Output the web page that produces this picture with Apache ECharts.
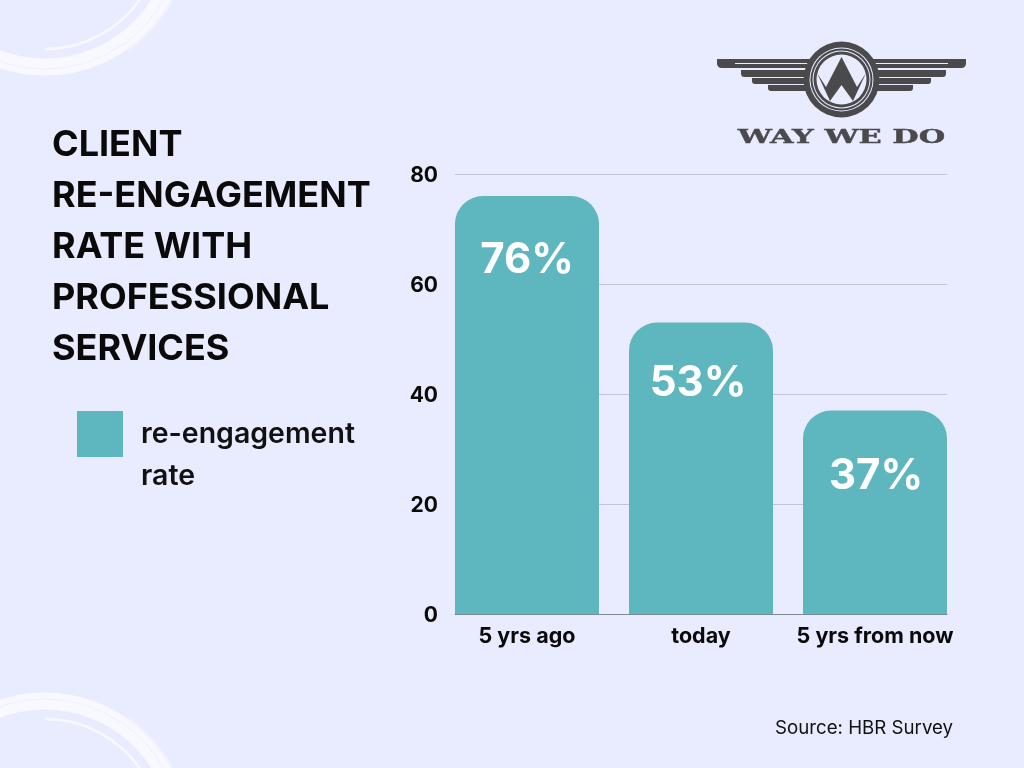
<!DOCTYPE html>
<html>
<head>
<meta charset="utf-8">
<style>
  html, body { margin: 0; padding: 0; background: #e9ecff; }
  #chart { width: 1024px; height: 768px; }
</style>
<script src="https://cdn.jsdelivr.net/npm/echarts@6/dist/echarts.min.js"></script>
</head>
<body>
<div id="chart"></div>
<script>
const categories = ['5 yrs ago', 'today', '5 yrs from now']
const rateValues = [76, 53, 37]
const yTicks = [0, 20, 40, 60, 80]
const seriesName = 're-engagement\nrate'
const titleText = 'CLIENT\nRE-ENGAGEMENT\nRATE WITH\nPROFESSIONAL\nSERVICES'
const sourceText = 'Source: HBR Survey'

const FONT = 'Inter, Roboto, sans-serif'
const BAR = '#5eb6bf'
const BG = '#e9ecff'
const DARK = '#4a4a4d'
const SWOOSH = '#f8f9ff'
// 每个柱子标签的微调
const labelOffsets = [[0, 7], [-3, 4], [1, 9]]

// 左侧装饰弧线，flip为true时是底部那个
function swoosh(flip) {
  const cy = flip ? 835 : -67
  const a = (deg) => deg * Math.PI / 180
  const arcs = [
    { r: 134, w: 17, s: 22, e: 115, c: SWOOSH },
    { r: 136, w: 1, s: 30, e: 110, c: '#eef0ff' },
    { r: 116, w: 2.5, s: 33, e: 90, c: SWOOSH },
    { r: 144, w: 1, s: 27, e: 55, c: SWOOSH }
  ]
  return arcs.map(item => ({
    type: 'arc',
    silent: true,
    shape: flip
      ? { cx: 45, cy: cy, r: item.r, startAngle: a(-item.e), endAngle: a(-item.s) }
      : { cx: 45, cy: cy, r: item.r, startAngle: a(item.s), endAngle: a(item.e) },
    style: { stroke: item.c, lineWidth: item.w, fill: 'none' },
    z: 0
  }))
}

// logo
function logo() {
  const cx = 841.5, cy = 79.5
  const bar = (x1, x2, y, h) => ({
    type: 'rect', silent: true,
    shape: { x: x1, y: y, width: x2 - x1, height: h, r: [0, 0, h / 2, h / 2] },
    style: { fill: DARK }
  })
  const ring = (r, fill) => ({
    type: 'circle', silent: true, shape: { cx: cx, cy: cy, r: r }, style: { fill: fill }
  })
  return [
    bar(717, 966, 59, 9),
    bar(741, 946, 70, 7),
    bar(752, 931, 78, 6),
    bar(768, 913, 85, 6),
    { type: 'line', silent: true, shape: { x1: 735, y1: 63.5, x2: 948, y2: 63.5 }, style: { stroke: BG, lineWidth: 1 } },
    ring(38, DARK), ring(32, BG), ring(31, DARK), ring(29, BG), ring(28, DARK), ring(25, BG),
    {
      type: 'polygon', silent: true,
      shape: {
        points: [[817, 73], [826, 87], [841.5, 57], [857, 87], [866, 73], [853, 101], [841.5, 85], [830, 101]]
      },
      style: { fill: DARK }
    },
    {
      type: 'text', silent: true,
      x: cx, y: 138.5, scaleX: 1.6,
      style: {
        x: 0, y: 0, text: 'WAY WE DO', align: 'center', verticalAlign: 'middle',
        font: 'bold 19px "DejaVu Serif"', fill: DARK, stroke: DARK, lineWidth: 0.4, letterSpacing: 1
      }
    }
  ]
}

const myChart = echarts.init(document.getElementById('chart'))

myChart.setOption({
  backgroundColor: BG,
  animation: false,
  title: [{
    text: titleText,
    left: 47, top: 115,
    textStyle: { fontFamily: FONT, fontSize: 36, fontWeight: 700, color: '#0a0a0a', lineHeight: 51 }
  }, {
    text: sourceText,
    left: 770, top: 712,
    textStyle: { fontFamily: FONT, fontSize: 18.7, fontWeight: 400, color: '#111', lineHeight: 22 }
  }],
  legend: {
    left: 72, top: 366, orient: 'vertical',
    itemWidth: 46, itemHeight: 46, itemGap: 0,
    icon: 'rect',
    selectedMode: false,
    data: [seriesName],
    // 空出第一行，让图标对齐文字第一行
    formatter: (name) => '\n' + name,
    textStyle: { fontFamily: FONT, fontSize: 28.5, fontWeight: 600, color: '#111', lineHeight: 42, padding: [0, 0, 0, 13] }
  },
  // grid0画网格线，grid1画柱子（两端柱子要贴齐网格线），grid2只放y轴文字（下移2px才对齐刻度）
  grid: [
    { left: 455, width: 492, top: 174, height: 440 },
    { left: 440, width: 522, top: 174, height: 440 },
    { left: 455, width: 492, top: 176, height: 440 }
  ],
  xAxis: [{
    type: 'category', gridIndex: 0, data: categories,
    axisTick: { show: false },
    axisLabel: { show: false },
    axisLine: { show: true, lineStyle: { color: '#7f8a90', width: 1 } }
  }, {
    type: 'category', gridIndex: 1, data: categories,
    axisTick: { show: false },
    axisLine: { show: false },
    axisLabel: { interval: 0, margin: 12, fontFamily: FONT, fontSize: 21.5, fontWeight: 700, color: '#0a0a0a' }
  }, {
    type: 'category', gridIndex: 2, data: categories, show: false
  }],
  yAxis: [{
    type: 'value', gridIndex: 0, min: 0, max: 80, interval: 20,
    axisLine: { show: false },
    axisTick: { show: false },
    splitLine: { show: true, lineStyle: { color: '#bfc3dc', width: 1 } },
    axisLabel: { show: false }
  }, {
    type: 'value', gridIndex: 1, min: 0, max: 80, interval: 20,
    axisLine: { show: false },
    axisTick: { show: false },
    splitLine: { show: false },
    axisLabel: { show: false }
  }, {
    type: 'value', gridIndex: 2, min: 0, max: 80, interval: 20,
    axisLine: { show: false },
    axisTick: { show: false },
    splitLine: { show: false },
    axisLabel: {
      margin: 17, fontFamily: FONT, fontSize: 21, fontWeight: 700, color: '#0a0a0a',
      formatter: (v) => yTicks.includes(v) ? String(v) : ''
    }
  }],
  series: [{
    name: seriesName,
    type: 'bar',
    xAxisIndex: 1,
    yAxisIndex: 1,
    data: rateValues.map((v, i) => ({ value: v, label: { offset: labelOffsets[i] } })),
    barWidth: 144,
    itemStyle: { color: BAR, borderRadius: [28, 28, 0, 0] },
    label: {
      show: true,
      position: 'insideTop',
      distance: 36,
      formatter: '{c}%',
      fontFamily: FONT,
      fontSize: 42,
      fontWeight: 700,
      color: '#ffffff'
    }
  }],
  graphic: { elements: [...swoosh(false), ...swoosh(true), ...logo()] }
})
</script>
</body>
</html>
